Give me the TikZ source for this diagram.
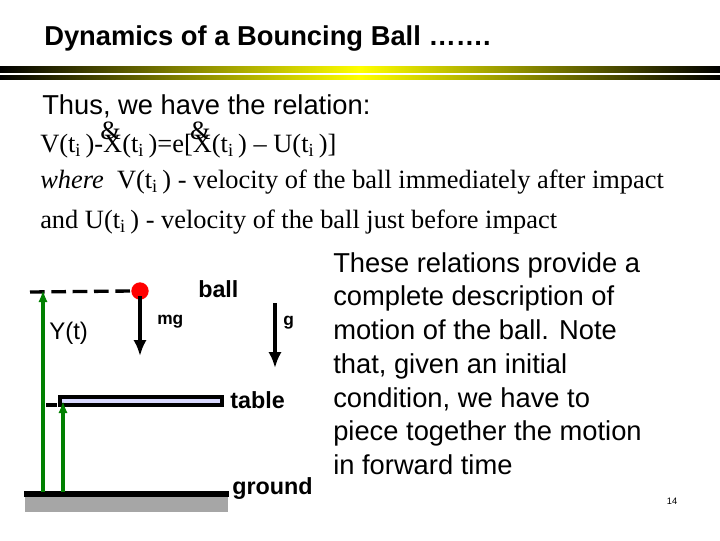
\documentclass[tikz,border=0pt]{standalone}
\usepackage{fontspec}
\usetikzlibrary{arrows.meta}
\setmainfont{Liberation Serif}
\setsansfont{Liberation Sans}
\begin{document}
\begin{tikzpicture}[x=0.75pt,y=-0.75pt,
  sf/.style={font=\sffamily\fontsize{20.5}{22}\selectfont,anchor=west,inner sep=0},
  rm/.style={font=\rmfamily\fontsize{19.8}{22}\selectfont,anchor=west,inner sep=0},
  lab/.style={font=\sffamily\bfseries\fontsize{17.5}{19}\selectfont,anchor=west,inner sep=0},
  arr/.style={-{Latex[length=12pt,width=10pt]},line width=3pt},
  garr/.style={-{Latex[length=9pt,width=7pt]},line width=3pt,green!50!black}]
\useasboundingbox (0,0) rectangle (720,540);
\node[inner sep=0,anchor=west,font=\sffamily\bfseries\fontsize{20.5}{22}\selectfont] (title) at (44,38) {Dynamics of a Bouncing Ball …….};
\shade[left color=black,right color=black,middle color=yellow] (0,66) rectangle (720,72);
\shade[left color=black,right color=black,middle color=yellow] (0,75) rectangle (720,79);
\node[sf] (thus) at (42,106) {Thus, we have the relation:};
\node[rm] (eq) at (40,140) {V(t\textsubscript{i}\,)-X\llap{\raisebox{1.0ex}{\&\hspace{1pt}}}(t\textsubscript{i}\,)=e[X\llap{\raisebox{1.0ex}{\&\hspace{1pt}}}(t\textsubscript{i}\,) -- U(t\textsubscript{i}\,)]};
\node[rm] (where) at (40,182) {\textit{where}\ \ V(t\textsubscript{i}\,) - velocity of the ball immediately after impact};
\node[rm] (and) at (40,222) {and U(t\textsubscript{i}\,) - velocity of the ball just before impact};
% diagram
\coordinate (d0) at (30,292);
\node[circle,fill=red,inner sep=0,minimum size=13pt] (ball) at (140,291) {};
\draw[line width=2.5pt,dash pattern=on 11pt off 5pt] (d0) -- (ball.west);
\coordinate (mg0) at (140,296); \coordinate (mg1) at (140,356);
\draw[arr] (mg0) -- (mg1);
\node[lab,font=\sffamily\bfseries\fontsize{13}{15}\selectfont] (mg) at (157,322) {mg};
\node[lab] (balllab) at (198,289) {ball};
\coordinate (g0) at (275,303); \coordinate (g1) at (275,368);
\draw[arr] (g0) -- (g1);
\node[lab,font=\sffamily\bfseries\fontsize{13}{15}\selectfont] (glab) at (283,323) {g};
\node[sf,font=\sffamily\fontsize{18}{20}\selectfont] (yt) at (49,333) {Y(t)};
\draw[fill=blue!15,line width=2.5pt] (60,397) rectangle (222,405);
\node[lab] (table) at (230,400) {table};
\coordinate (td) at (46,405); \coordinate (td1) at (57,405);
\draw[line width=2.5pt] (td) -- (td1);
\fill[gray!70] (25,494) rectangle (228,512);
\draw[line width=4pt] (24,494) -- (229,494);
\node[lab] (ground) at (232,489) {ground};
\coordinate (ga) at (43,492); \coordinate (gb) at (43,290);
\draw[garr] (ga) -- (gb);
\coordinate (gc) at (63,492); \coordinate (gd) at (63,401);
\draw[garr] (gc) -- (gd);
% right text
\node[sf,anchor=north west,align=left,font=\sffamily\fontsize{20.5}{25.3}\selectfont] (txt) at (333,252) {These relations provide a\\complete description of\\motion of the ball. Note\\that, given an initial\\condition, we have to\\piece together the motion\\in forward time};
\node[inner sep=0,font=\sffamily\fontsize{7}{8}\selectfont] (pg) at (672,501) {14};
\end{tikzpicture}
\end{document}
